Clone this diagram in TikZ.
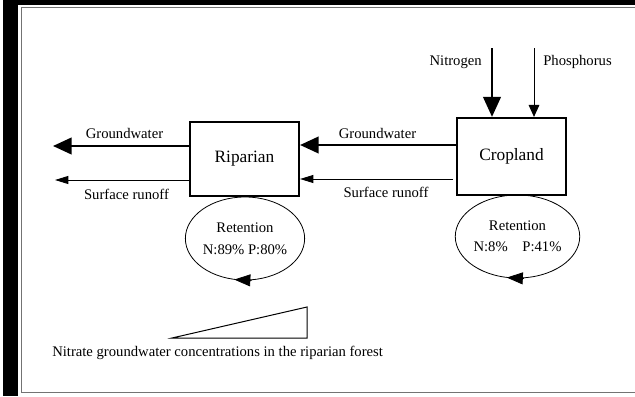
\documentclass[tikz,border=0pt]{standalone}
\usepackage{fontspec}
\setmainfont{Liberation Serif}
\usetikzlibrary{arrows.meta,shapes.geometric}
\begin{document}
\begin{tikzpicture}[x=0.75pt,y=-0.75pt,
  boxnode/.style={draw,line width=1.6pt,minimum width=81.75pt,minimum height=56pt,inner sep=0pt,font=\fontsize{13}{15}\selectfont},
  retnode/.style={draw,ellipse,line width=0.6pt,minimum width=88.5pt,minimum height=62.25pt,inner sep=0pt,align=center,font=\fontsize{11}{13}\selectfont},
  lbl/.style={inner sep=0pt,font=\fontsize{11}{13}\selectfont},
  thickarrow/.style={line width=1.6pt,-{Triangle[length=14pt,width=12.5pt]}},
  thinarrow/.style={line width=0.75pt,-{Triangle[length=10pt,width=6pt]}},
  nitroarrow/.style={line width=2.2pt,-{Triangle[length=15pt,width=13pt]}},
  phosarrow/.style={line width=0.75pt,-{Triangle[length=9pt,width=8pt]}},
  retarrow/.style={line width=0.6pt,-{Triangle[length=12pt,width=9pt]}},
  framegray/.style={draw=black!55,line width=1.3pt}
]
\useasboundingbox (0,0) rectangle (635,396);
% frame
\fill[black] (3,0) rectangle (635,5);
\fill[black] (3,0) rectangle (18,396);
\draw[framegray] (635,7.5) -- (21.5,7.5) -- (21.5,392.5) -- (635,392.5);

% boxes
\node[boxnode] (rip) at (244.5,159) {Riparian};
\node[boxnode,minimum height=57.75pt] (crop) at (511.5,156.5) {Cropland};

% retention ellipses
\node[retnode] (ret1) at (245,238.5) {Retention\\[3.5pt]N:89\% P:80\%};
\node[retnode,minimum width=89.25pt] (ret2) at (517.5,236.5) {Retention\\[2.5pt]N:8\%\quad P:41\%};
\draw[retarrow] ([xshift=5pt]ret1.south) -- ([xshift=-8pt,yshift=0.6pt]ret1.south);
\draw[retarrow] ([xshift=5pt]ret2.south) -- ([xshift=-8pt,yshift=0.6pt]ret2.south);

% level coordinates
\coordinate (gwr) at (0,145);
\coordinate (srr) at (0,179);
\coordinate (gwl) at (53,146);
\coordinate (srl) at (55,180);
\coordinate (srstart) at (453,179);
\coordinate (ntop) at (492,48);
\coordinate (ptop) at (534,48);

% flows
\draw[thickarrow] (crop.west |- gwr) -- (rip.east |- gwr);
\draw[thinarrow] (srstart) -- (rip.east |- srr);
\draw[thickarrow] (rip.west |- gwl) -- (gwl);
\draw[thinarrow] (rip.west |- srl) -- (srl);
\draw[nitroarrow] (ntop) -- (crop.north -| ntop);
\draw[phosarrow] (ptop) -- (crop.north -| ptop);

% labels
\node[lbl] (lgw1) at (124.5,133) {Groundwater};
\node[lbl] (lsr1) at (126.5,194) {Surface runoff};
\node[lbl] (lgw2) at (377.5,133) {Groundwater};
\node[lbl] (lsr2) at (386,192) {Surface runoff};
\node[lbl,anchor=east] (lnit) at (482,62) {Nitrogen};
\node[lbl,anchor=west] (lpho) at (543,62) {Phosphorus};

% gradient triangle
\draw[line width=0.75pt] (172,338) -- (307,307) -- (307,338) -- cycle;
\node[lbl,anchor=west] (cap) at (52,353) {Nitrate groundwater concentrations in the riparian forest};
\end{tikzpicture}
\end{document}
